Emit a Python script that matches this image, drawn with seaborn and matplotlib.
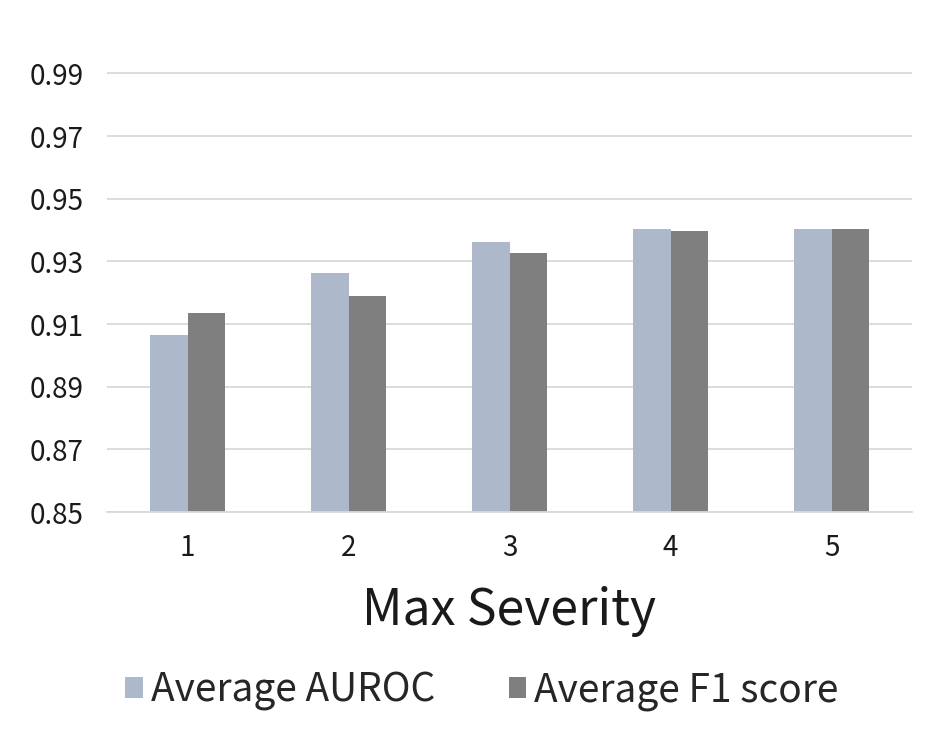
import matplotlib
matplotlib.use("Agg")
import matplotlib.pyplot as plt
import seaborn as sns
import pandas as pd
import numpy as np

categories = ["1", "2", "3", "4", "5"]
auroc = [0.9065, 0.9262, 0.9361, 0.9403, 0.9403]
f1 = [0.9135, 0.9189, 0.9326, 0.9397, 0.9403]
series_names = ["Average AUROC", "Average F1 score"]
yticks = [0.85, 0.87, 0.89, 0.91, 0.93, 0.95, 0.97, 0.99]

df = pd.DataFrame({
    "cat": categories * 2,
    "value": auroc + f1,
    "series": [series_names[0]] * 5 + [series_names[1]] * 5,
})

sns.set_theme(style="white")
plt.rcParams['font.family'] = ['Noto Sans CJK SC', 'DejaVu Sans']

fig = plt.figure(figsize=(9.52, 7.46), dpi=100)
ax = fig.add_axes([107/952, 1-512/746, (912-107)/952, (512-42)/746])

sns.barplot(data=df, x="cat", y="value", hue="series",
            palette=["#ADB9CA", "#7F7F7F"], width=0.472, ax=ax,
            saturation=1, legend=True, linewidth=0, edgecolor="none")

ax.set_ylim(0.85, 1.0)
ax.set_xlim(-0.5, 4.5)
ax.set_yticks(yticks)
ax.set_yticklabels([f"{t:.2f}" for t in yticks])
ax.yaxis.grid(True, color="#D9D9D9", linewidth=1.3)
ax.set_axisbelow(True)
for s in ["top", "right", "left"]:
    ax.spines[s].set_visible(False)
ax.spines["bottom"].set_color("#D9D9D9")
ax.spines["bottom"].set_linewidth(1.3)

ax.tick_params(axis="y", length=0, labelsize=20, pad=17, labelcolor="#1a1a1a")
ax.tick_params(axis="x", which="major", length=0, labelsize=20, pad=15, labelcolor="#1a1a1a")
ax.set_xticks(np.arange(-0.5, 5.0, 1.0), minor=True)
ax.tick_params(axis="x", which="minor", length=7, width=1.3, color="#D9D9D9")

ax.set_xlabel("Max Severity", fontsize=36, labelpad=16, color="#1a1a1a")
ax.set_ylabel("")

ax.legend(loc="center", bbox_to_anchor=(482/952, 1-691/746),
          bbox_transform=fig.transFigure, ncol=2, frameon=False,
          fontsize=28, handlelength=0.45, handleheight=0.45,
          handletextpad=0.2, columnspacing=1.9)

fig.savefig("out.png", dpi=100)
